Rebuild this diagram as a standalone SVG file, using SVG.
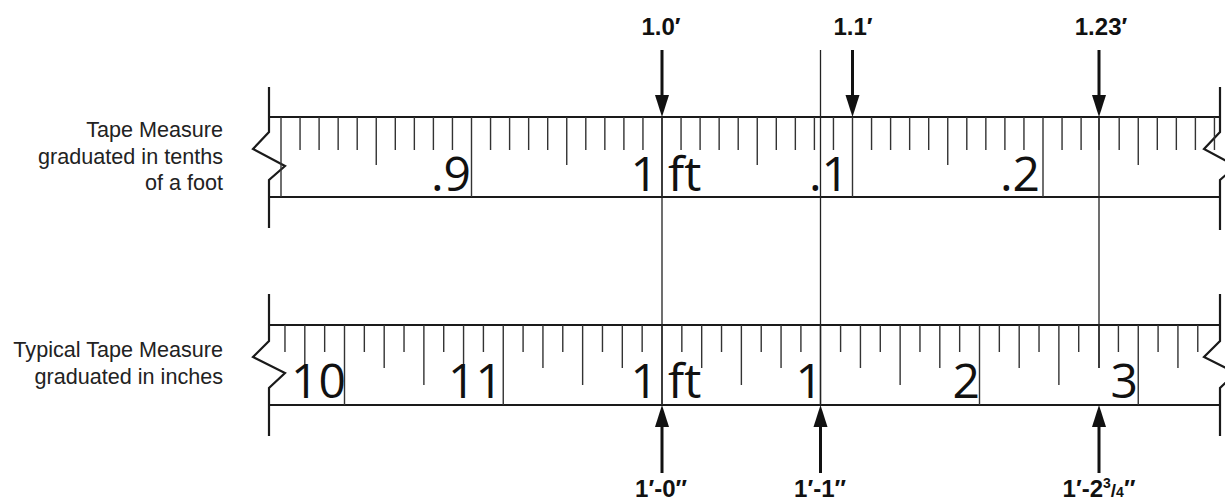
<svg xmlns="http://www.w3.org/2000/svg" width="1225" height="502" viewBox="0 0 1225 502">
<style>
.edge{stroke:#1a1a1a;stroke-width:2.2;fill:none}
.tick{stroke:#333;stroke-width:1.4;fill:none}
.guide{stroke:#222;stroke-width:1.3;fill:none}
.shaft{stroke:#111;stroke-width:3;fill:none}
.head{fill:#111}
.num{font-family:"Open Sans","Liberation Sans",sans-serif;font-size:48px;fill:#111}
.lbl{font-family:"Liberation Sans",Arial,sans-serif;font-size:21.6px;fill:#222;text-anchor:end}
.dim{font-family:"Liberation Sans",Arial,sans-serif;font-weight:bold;font-size:24px;fill:#111;text-anchor:middle}
</style>
<rect width="1225" height="502" fill="#fff"/>

<g id="label-tenths">
<text class="lbl" x="223" y="137">Tape Measure</text>
<text class="lbl" x="223" y="163.5">graduated in tenths</text>
<text class="lbl" x="223" y="190">of a foot</text>
</g>
<g id="label-inches">
<text class="lbl" x="223" y="357">Typical Tape Measure</text>
<text class="lbl" x="223" y="383.5">graduated in inches</text>
</g>

<g id="tape-tenths">
<path class="edge" d="M269 117H1220M269 197H1220"/>
<path class="edge" d="M269 87V132L253 149L285 166L269 180V228"/>
<path class="edge" d="M1220 87V132L1204 149L1236 166L1220 180V230"/>
<path class="tick" d="M300.05 117v33M319.1 117v33M338.15 117v33M357.2 117v33M395.3 117v33M414.35 117v33M433.4 117v33M452.45 117v33M490.55 117v33M509.6 117v33M528.65 117v33M547.7 117v33M585.8 117v33M604.85 117v33M623.9 117v33M642.95 117v33M681.05 117v33M700.1 117v33M719.15 117v33M738.2 117v33M776.3 117v33M795.35 117v33M814.4 117v33M833.45 117v33M871.55 117v33M890.6 117v33M909.65 117v33M928.7 117v33M966.8 117v33M985.85 117v33M1004.9 117v33M1023.95 117v33M1062.05 117v33M1081.1 117v33M1099 117v33M1119.2 117v33M1157.3 117v33M1176.35 117v33M1195.4 117v33M1214.45 117v33"/>
<path class="tick" d="M376.25 117v48M566.75 117v48M757.25 117v48M947.75 117v48M1138.25 117v48"/>
<path class="tick" d="M281 117v80M471.5 117v80M662 117v80M852.5 117v80M1043 117v80"/>
<text class="num" x="471" y="191" text-anchor="end">.9</text>
<text class="num" x="658" y="191" text-anchor="end">1</text>
<text class="num" x="668" y="191">ft</text>
<text class="num" x="849" y="191" text-anchor="end">.1</text>
<text class="num" x="1040" y="191" text-anchor="end">.2</text>
</g>

<g id="tape-inches">
<path class="edge" d="M269 325H1220M269 405H1220"/>
<path class="edge" d="M269 294V341L253 357L285 373L269 388V436"/>
<path class="edge" d="M1220 294V341L1204 357L1236 373L1220 388V436"/>
<path class="tick" d="M284.97 325v27M324.66 325v27M364.34 325v27M404.03 325v27M443.72 325v27M483.41 325v27M523.09 325v27M562.78 325v27M602.47 325v27M642.16 325v27M681.84 325v27M721.53 325v27M761.22 325v27M800.91 325v27M840.59 325v27M880.28 325v27M919.97 325v27M959.66 325v27M999.34 325v27M1039.03 325v27M1078.72 325v27M1118.41 325v27M1158.09 325v27M1197.78 325v27"/>
<path class="tick" d="M304.81 325v43M384.19 325v43M463.56 325v43M542.94 325v43M622.31 325v43M701.69 325v43M781.06 325v43M860.44 325v43M939.81 325v43M1019.19 325v43M1099 325v43M1177.94 325v43"/>
<path class="tick" d="M423.88 325v60M582.63 325v60M741.38 325v60M900.13 325v60M1058.88 325v60"/>
<path class="tick" d="M344.5 325v80M503.25 325v80M662 325v80M820.5 325v80M979.5 325v80M1138.25 325v80"/>
<text class="num" x="346" y="398" text-anchor="end">10</text>
<text class="num" x="503" y="398" text-anchor="end">11</text>
<text class="num" x="658" y="398" text-anchor="end">1</text>
<text class="num" x="668" y="398">ft</text>
<text class="num" x="823" y="398" text-anchor="end">1</text>
<text class="num" x="980" y="398" text-anchor="end">2</text>
<text class="num" x="1138" y="398" text-anchor="end">3</text>
</g>

<g id="connectors">
<path class="guide" d="M662 117V405M820.5 50V405M1099 117V368"/>
<path class="shaft" d="M662 50V97M852.5 50V97M1099 50V97"/>
<polygon class="head" points="655,95 669,95 662,117"/>
<polygon class="head" points="845.5,95 859.5,95 852.5,117"/>
<polygon class="head" points="1092,95 1106,95 1099,117"/>
<path class="shaft" d="M662 425V473M820.5 425V473M1099 425V473"/>
<polygon class="head" points="655,427 669,427 662,405"/>
<polygon class="head" points="813.5,427 827.5,427 820.5,405"/>
<polygon class="head" points="1092,427 1106,427 1099,405"/>
</g>

<g id="dim-labels">
<text class="dim" x="661" y="35">1.0′</text>
<text class="dim" x="853" y="35">1.1′</text>
<text class="dim" x="1101" y="35">1.23′</text>
<text class="dim" x="661" y="497">1′-0″</text>
<text class="dim" x="820" y="497">1′-1″</text>
<text class="dim" x="1099" y="497">1′-2<tspan font-size="14" dy="-9">3</tspan><tspan font-size="19" dy="9">/</tspan><tspan font-size="14">4</tspan>″</text>
</g>
</svg>
